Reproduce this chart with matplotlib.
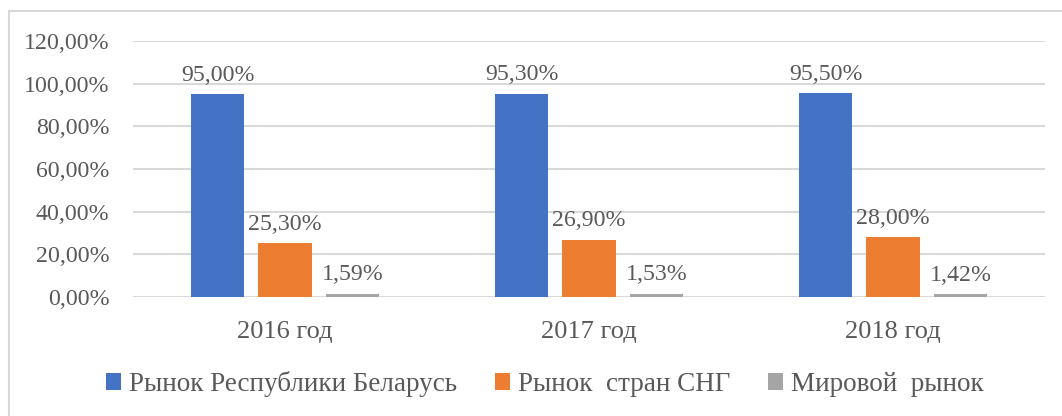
import numpy as np
import matplotlib.pyplot as plt
from matplotlib.patches import Rectangle

plt.rcParams['font.family'] = ['Liberation Serif', 'DejaVu Serif']

# данные
years = ['2016 год', '2017 год', '2018 год']
series_names = ['Рынок Республики Беларусь', 'Рынок  стран СНГ', 'Мировой  рынок']
belarus = [95.00, 95.30, 95.50]
cis = [25.30, 26.90, 28.00]
world = [1.59, 1.53, 1.42]
colors = ['#4472C4', '#ED7D31', '#A5A5A5']
text_color = '#595959'
grid_color = '#D9D9D9'
fs = 17.2


def pct(v):
    return f'{v:.2f}'.replace('.', ',') + '%'


W, H = 1062, 416
fig = plt.figure(figsize=(W / 100, H / 100), dpi=100)
ax = fig.add_axes([133 / W, 119 / H, (1045 - 133) / W, (375 - 119) / H])

# рамка вокруг диаграммы
fig.patches.append(Rectangle((9 / W, -0.1), 1.2, (H - 11) / H + 0.1,
                             transform=fig.transFigure, fill=False,
                             edgecolor=grid_color, linewidth=1.5))

x = np.arange(len(years))
width = 0.176
step = 0.222
for i, (vals, name) in enumerate(zip([belarus, cis, world], series_names)):
    bars = ax.bar(x + (i - 1) * step, vals, width, color=colors[i], label=name, zorder=3)
    ax.bar_label(bars, labels=[pct(v) for v in vals], padding=6,
                 fontsize=fs, color=text_color)

ax.set_xlim(-0.5, 2.5)
ax.set_ylim(0, 120)
ax.set_yticks(np.arange(0, 121, 20))
ax.set_yticklabels([pct(v) for v in np.arange(0, 121, 20)])
ax.set_xticks(x)
ax.set_xticklabels(years)
ax.tick_params(axis='y', length=0, pad=17, labelsize=fs, labelcolor=text_color)
ax.tick_params(axis='x', length=0, pad=17, labelsize=19, labelcolor=text_color)
ax.grid(axis='y', color=grid_color, linewidth=1.5, zorder=0)
for s in ax.spines.values():
    s.set_visible(False)

fig.legend(loc='center', bbox_to_anchor=(0.513, 32 / H), ncol=3, frameon=False,
           fontsize=19.5, labelcolor=text_color, handlelength=0.55, handleheight=0.55,
           handletextpad=0.3, columnspacing=1.4)

fig.savefig('out.png', dpi=100)
